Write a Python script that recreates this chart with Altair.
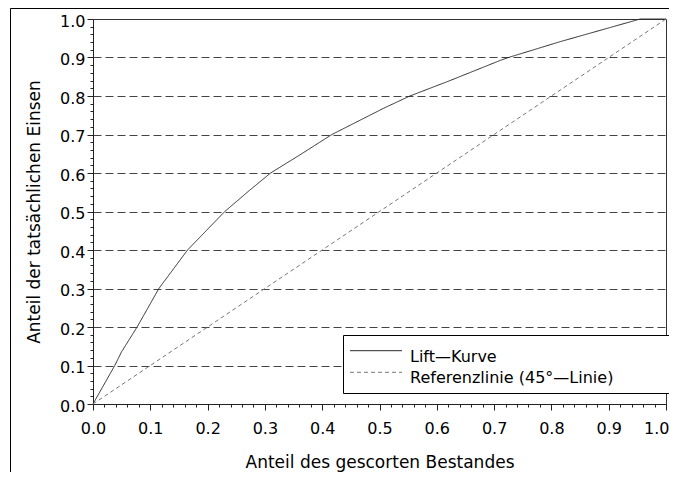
import altair as alt
import pandas as pd

# Lift curve
lift_x = [0.0, 0.038, 0.05, 0.077, 0.115, 0.165, 0.23, 0.274, 0.31, 0.361, 0.417,
          0.507, 0.553, 0.623, 0.71, 0.725, 0.815, 0.955, 1.0]
lift_y = [0.0, 0.1, 0.136, 0.2, 0.3, 0.4, 0.5, 0.556, 0.6, 0.647, 0.7,
          0.768, 0.8, 0.84, 0.892, 0.9, 0.941, 1.0, 1.0]
# 45-degree reference line
ref_x = [0.0, 1.0]
ref_y = [0.0, 1.0]

series_names = ["Lift\u2014Kurve", "Referenzlinie (45\u00b0\u2014Linie)"]
series_colors = ["#2a2a2a", "#777777"]
series_dash = [[1, 0], [4, 3]]
tick_values = [round(i * 0.02, 2) for i in range(51)]

rows = []
for i, (a, b) in enumerate(zip(lift_x, lift_y)):
    rows.append({"x": a, "y": b, "series": series_names[0], "o": i})
for i, (a, b) in enumerate(zip(ref_x, ref_y)):
    rows.append({"x": a, "y": b, "series": series_names[1], "o": i})
df = pd.DataFrame(rows)

FONT = "DejaVu Sans"
major = "abs(datum.value*10 - round(datum.value*10)) < 0.01"
inner_major = major + " && datum.value > 0.05 && datum.value < 0.95"
label_expr = "(" + major + ") ? format(datum.value, '.1f') : ''"
is_last = "datum.value > 0.99"

x_axis = alt.Axis(
    values=tick_values, labelExpr=label_expr, labelOverlap=False, labelFlush=False,
    tickSize={"condition": {"test": major, "value": 6}, "value": 3},
    tickColor="#222", domainColor="#222", grid=False,
    labelFont=FONT, labelFontSize=16, labelColor="black", labelPadding=10,
    labelAlign={"condition": {"test": is_last, "value": "right"}, "value": "center"},
    labelOffset={"condition": {"test": is_last, "value": 3}, "value": 0},
    title="Anteil des gescorten Bestandes", titleFont=FONT, titleFontSize=17,
    titleFontWeight="normal", titleColor="black", titleBaseline="alphabetic",
    titleX=286.5, titleY=63,
)
y_axis = alt.Axis(
    values=tick_values, labelExpr=label_expr, labelOverlap=False, labelFlush=False,
    tickSize={"condition": {"test": major, "value": 6}, "value": 3},
    tickColor="#222", domainColor="#222",
    grid=True, gridDash=[8, 4], gridColor="#444", gridWidth=1,
    gridOpacity={"condition": {"test": inner_major, "value": 1}, "value": 0},
    labelFont=FONT, labelFontSize=16, labelColor="black", labelPadding=2,
    labelOffset=2,
    title="Anteil der tatsächlichen Einsen", titleFont=FONT, titleFontSize=17,
    titleFontWeight="normal", titleColor="black", titleBaseline="alphabetic",
    titleX=-54, titleY=192.5,
)

one = alt.Data(values=[{}])

frame = alt.Chart(one).mark_rect(
    fillOpacity=0, stroke="black", strokeWidth=1
).encode(
    x=alt.value(-82.5), x2=alt.value(700), y=alt.value(-10.5), y2=alt.value(520)
)

lines = alt.Chart(df).mark_line(strokeWidth=1).encode(
    x=alt.X("x:Q", scale=alt.Scale(domain=[0, 1], nice=False), axis=x_axis),
    y=alt.Y("y:Q", scale=alt.Scale(domain=[0, 1], nice=False), axis=y_axis),
    order="o:Q",
    color=alt.Color("series:N", scale=alt.Scale(domain=series_names, range=series_colors), legend=None),
    strokeDash=alt.StrokeDash("series:N", scale=alt.Scale(domain=series_names, range=series_dash), legend=None),
)

# legend box drawn by hand
legend_box = alt.Chart(one).mark_rect(
    fill="white", stroke="black", strokeWidth=1
).encode(
    x=alt.value(250.5), x2=alt.value(577.5), y=alt.value(316.5), y2=alt.value(374.5)
)
legend_layers = [legend_box]
row_base = [342.7, 364.3]
for i, name in enumerate(series_names):
    legend_layers.append(
        alt.Chart(one).mark_rule(
            stroke=series_colors[i], strokeWidth=1, strokeDash=series_dash[i]
        ).encode(
            x=alt.value(257), x2=alt.value(309), y=alt.value(row_base[i] - 11)
        )
    )
    legend_layers.append(
        alt.Chart(one).mark_text(
            text=name, align="left", baseline="alphabetic", font=FONT,
            fontSize=16, color="black"
        ).encode(x=alt.value(317), y=alt.value(row_base[i]))
    )

chart = alt.layer(frame, lines, *legend_layers).properties(
    width=573, height=385,
    autosize=alt.AutoSizeParams(type="none"),
    padding={"left": 85, "top": 11, "right": 3, "bottom": 68},
    background="white",
).configure_view(stroke="#333", strokeWidth=1)

chart.save("out.html", embed_options={"renderer": "svg", "actions": False})
